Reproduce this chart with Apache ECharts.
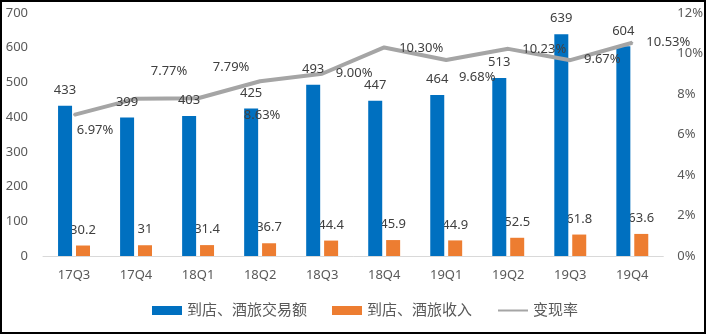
<!DOCTYPE html>
<html>
<head>
<meta charset="utf-8">
<script src="https://cdn.jsdelivr.net/npm/echarts@6/dist/echarts.min.js"></script>
<style>
html,body{margin:0;padding:0;background:#fff;}
#c{width:706px;height:335px;}
</style>
</head>
<body>
<div id="c"></div>
<script>
const categories = ['17Q3','17Q4','18Q1','18Q2','18Q3','18Q4','19Q1','19Q2','19Q3','19Q4'];
const gmv = [433, 399, 403, 425, 493, 447, 464, 513, 639, 604];
const revenue = [30.2, 31, 31.4, 36.7, 44.4, 45.9, 44.9, 52.5, 61.8, 63.6];
const rate = [6.97, 7.77, 7.79, 8.63, 9.00, 10.30, 9.68, 10.23, 9.67, 10.53];
const seriesNames = ['到店、酒旅交易额', '到店、酒旅收入', '变现率'];
const leftTicks = {min: 0, max: 700, interval: 100};
const rightTicks = {min: 0, max: 12, interval: 2};

// label placement style (offset of each rate label from its point)
const rateLabelOffsets = [[21,15],[33,-27],[33,-31],[2,34],[32,0],[37,1],[31,17],[36,0],[32,-1],[36,0]];

const FONT = '"Noto Sans", "Noto Sans CJK SC", sans-serif';
const chart = echarts.init(document.getElementById('c'), null, {renderer: 'canvas'});
const option = {
  animation: false,
  backgroundColor: '#fff',
  textStyle: {fontFamily: FONT},
  grid: {left: 43, right: 42, top: 13, bottom: 79},
  legend: {
    left: 147, top: 298,
    itemWidth: 30, itemHeight: 9, itemGap: 25,
    textStyle: {fontSize: 15, color: '#595959', fontFamily: FONT},
    data: [
      {name: seriesNames[0], icon: 'rect'},
      {name: seriesNames[1], icon: 'rect'},
      {name: seriesNames[2], itemStyle: {color: 'rgba(0,0,0,0)', borderWidth: 0, opacity: 0}}
    ]
  },
  xAxis: [
    {
      type: 'category',
      data: categories,
      axisLine: {lineStyle: {color: '#D9D9D9', width: 1}},
      axisTick: {show: false},
      axisLabel: {color: '#595959', fontSize: 13, margin: 13, fontFamily: FONT}
    },
    {type: 'category', data: categories, show: false}
  ],
  yAxis: [
    {
      type: 'value', min: leftTicks.min, max: leftTicks.max, interval: leftTicks.interval,
      splitLine: {show: false}, axisLine: {show: false}, axisTick: {show: false},
      axisLabel: {color: '#595959', fontSize: 13, margin: 15, fontFamily: FONT}
    },
    {
      type: 'value', min: rightTicks.min, max: rightTicks.max, interval: rightTicks.interval,
      splitLine: {show: false}, axisLine: {show: false}, axisTick: {show: false},
      axisLabel: {color: '#595959', fontSize: 13, margin: 14, fontFamily: FONT, formatter: '{value}%'}
    }
  ],
  series: [
    {
      name: seriesNames[0], type: 'bar', data: gmv, barWidth: 14, barGap: '28%', z: 3,
      itemStyle: {color: '#0070C0'}
    },
    {
      name: seriesNames[1], type: 'bar', data: revenue, barWidth: 14, z: 2,
      itemStyle: {color: '#ED7D31'},
      label: {show: true, position: 'top', distance: 9, color: '#404040', fontSize: 13, fontFamily: FONT}
    },
    {
      name: seriesNames[2], type: 'line', yAxisIndex: 1, z: 4,
      data: rate.map((v, i) => ({
        value: v,
        label: {offset: rateLabelOffsets[i]}
      })),
      symbol: 'circle', symbolSize: 2,
      itemStyle: {color: '#A5A5A5'},
      lineStyle: {color: '#A5A5A5', width: 4},
      label: {
        show: true, position: 'inside', color: '#404040', fontSize: 13, fontFamily: FONT,
        formatter: p => p.value.toFixed(2) + '%'
      }
    },
    {
      // label layer for the first bar series, drawn above the line
      name: 'gmv-labels', type: 'bar', xAxisIndex: 1, data: gmv, barWidth: 14, z: 5,
      itemStyle: {color: 'rgba(0,0,0,0)'}, silent: true,
      label: {show: true, position: 'top', distance: 9, offset: [-9, 0], color: '#404040', fontSize: 13, fontFamily: FONT}
    }
  ],
  graphic: [
    {type: 'rect', shape: {x: 1, y: 1, width: 704, height: 332}, style: {fill: 'none', stroke: '#000', lineWidth: 2}, silent: true, z: 100}
  ]
};
chart.setOption(option);
</script>
</body>
</html>
